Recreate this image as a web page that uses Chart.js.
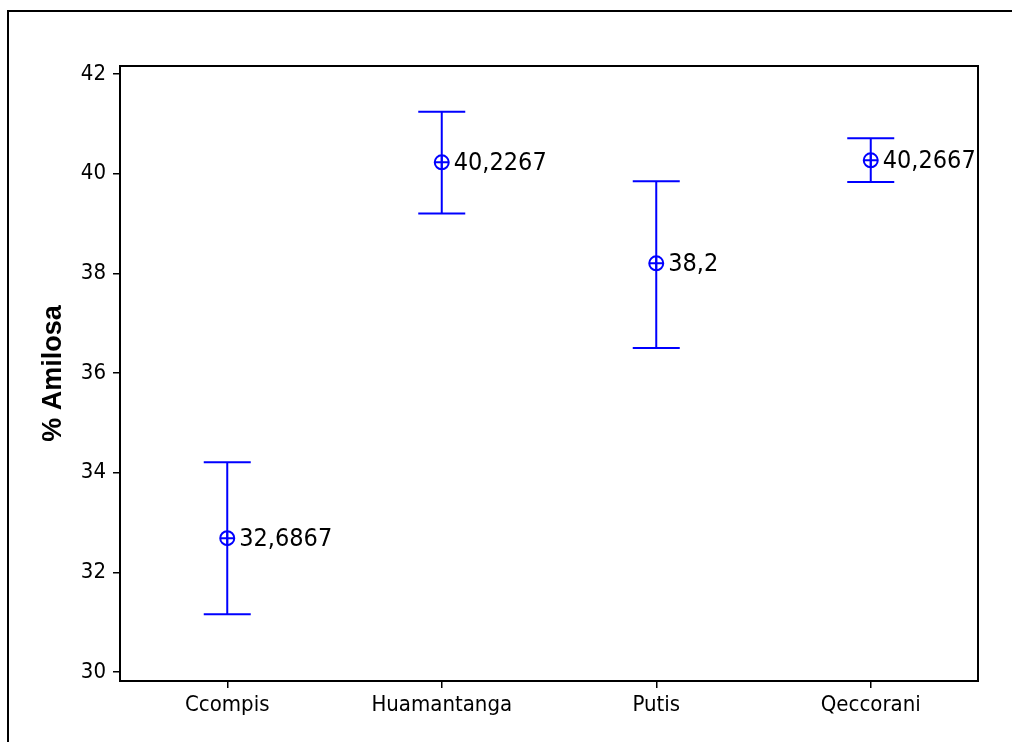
<!DOCTYPE html>
<html lang="es">
<head>
  <meta charset="UTF-8" />
  <title>% Amilosa - intervalos</title>
  <script src="https://cdn.jsdelivr.net/npm/chart.js"></script>
  <style>
    html, body { margin: 0; padding: 0; background: #fff; overflow: hidden; }
    #marco { position: absolute; left: 7px; top: 10px; width: 2000px; height: 2000px; border: 2px solid #000; }
    #grafico { position: absolute; left: 0; top: 0; }
  </style>
</head>
<body>
  <div id="marco"></div>
  <canvas id="grafico" width="1012" height="742"></canvas>

  <script>
    // datos
    const categorias = ['Ccompis', 'Huamantanga', 'Putis', 'Qeccorani'];
    const medias = [32.6867, 40.2267, 38.2, 40.2667];
    const superior = [34.21, 41.24, 39.85, 40.71];
    const inferior = [31.16, 39.20, 36.50, 39.83];
    const ticksY = [30, 32, 34, 36, 38, 40, 42];

    const fuente = "'DejaVu Sans Condensed', 'DejaVu Sans', sans-serif";
    const azul = '#0000ff';

    // barras de intervalo y etiquetas de la media
    const intervalos = {
      id: 'intervalos',
      afterDatasetsDraw(chart) {
        const { ctx, scales: { x, y } } = chart;
        ctx.save();
        ctx.strokeStyle = azul;
        ctx.lineWidth = 2;
        categorias.forEach((c, i) => {
          const px = x.getPixelForValue(i);
          const yTop = y.getPixelForValue(superior[i]);
          const yBot = y.getPixelForValue(inferior[i]);
          ctx.beginPath();
          ctx.moveTo(px, yTop); ctx.lineTo(px, yBot);
          ctx.moveTo(px - 23.5, yTop); ctx.lineTo(px + 23.5, yTop);
          ctx.moveTo(px - 23.5, yBot); ctx.lineTo(px + 23.5, yBot);
          ctx.stroke();
        });
        ctx.fillStyle = '#000';
        ctx.font = '25px ' + fuente;
        ctx.textBaseline = 'middle';
        ctx.textAlign = 'left';
        medias.forEach((m, i) => {
          const px = x.getPixelForValue(i);
          const py = y.getPixelForValue(m);
          ctx.fillText(String(m).replace('.', ','), px + 12, py + 1);
        });
        ctx.restore();
      },
      afterDraw(chart) {
        const { ctx, chartArea: a } = chart;
        ctx.save();
        ctx.strokeStyle = '#000';
        ctx.lineWidth = 2;
        ctx.strokeRect(a.left, a.top, a.right - a.left, a.bottom - a.top);
        ctx.restore();
      }
    };

    new Chart(document.getElementById('grafico'), {
      type: 'line',
      data: {
        labels: categorias,
        datasets: [{
          data: medias,
          showLine: false,
          pointStyle: 'circle',
          pointRadius: 7,
          pointBorderWidth: 2,
          pointBorderColor: azul,
          pointBackgroundColor: 'rgba(0,0,0,0)'
        }, {
          data: medias,
          showLine: false,
          pointStyle: 'cross',
          pointRadius: 7,
          pointBorderWidth: 2,
          pointBorderColor: azul
        }]
      },
      options: {
        responsive: false,
        animation: false,
        layout: { padding: { top: 66, right: 34, left: 0, bottom: 0 } },
        plugins: { legend: { display: false }, tooltip: { enabled: false } },
        scales: {
          x: {
            type: 'category',
            offset: true,
            afterFit(s) { s.height = 61; },
            grid: { drawOnChartArea: false, offset: false, tickLength: 7, color: '#000', lineWidth: 1.5 },
            border: { color: '#000', width: 2 },
            ticks: { color: '#000', padding: 4, font: { family: fuente, size: 22 } }
          },
          y: {
            min: 29.82,
            max: 42.16,
            afterFit(s) { s.width = 120; },
            afterBuildTicks(s) { s.ticks = ticksY.map(v => ({ value: v })); },
            grid: { drawOnChartArea: false, tickLength: 7, color: '#000', lineWidth: 1.5 },
            border: { color: '#000', width: 2 },
            ticks: { color: '#000', padding: 7, font: { family: fuente, size: 22 }, callback: v => v },
            title: {
              display: true,
              text: '% Amilosa',
              color: '#000',
              padding: { top: 40, bottom: 0 },
              font: { family: "'Liberation Sans', Arial, sans-serif", size: 27, weight: 'bold', lineHeight: 1 }
            }
          }
        }
      },
      plugins: [intervalos]
    });
  </script>
</body>
</html>
